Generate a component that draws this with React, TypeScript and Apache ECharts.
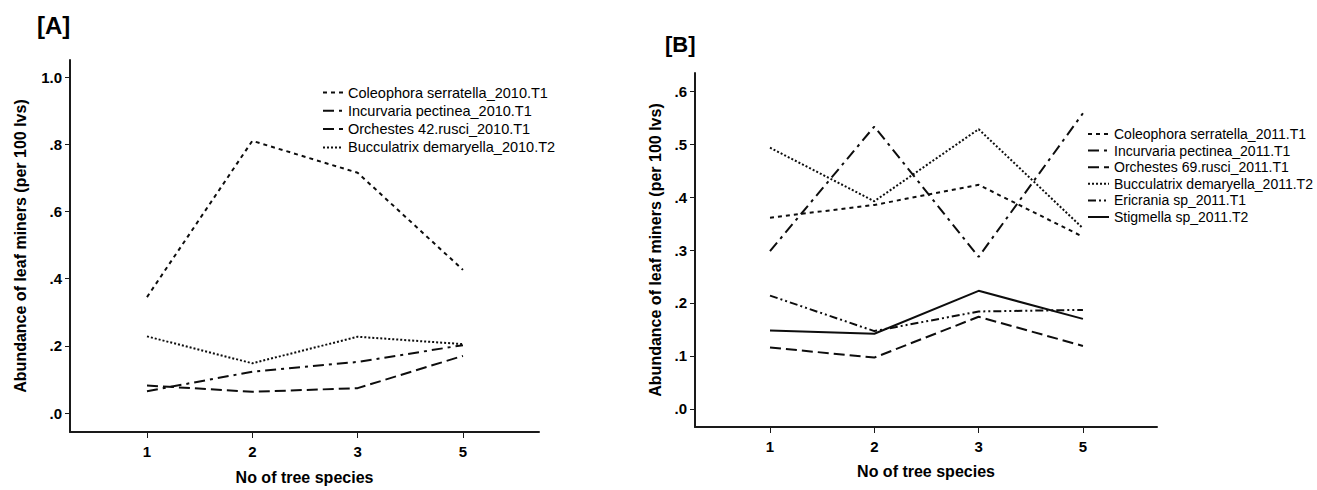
import React, { useEffect, useRef } from "react";
import * as echarts from "echarts";

const categories = ["1", "2", "3", "5"];

// Panel A (2010)
const namesA = [
  "Coleophora serratella_2010.T1",
  "Incurvaria pectinea_2010.T1",
  "Orchestes 42.rusci_2010.T1",
  "Bucculatrix demaryella_2010.T2",
];
const coleophoraA = [0.345, 0.81, 0.715, 0.426];
const incurvariaA = [0.065, 0.123, 0.152, 0.202];
const orchestesA = [0.082, 0.063, 0.074, 0.17];
const bucculatrixA = [0.228, 0.148, 0.227, 0.205];
const yTicksA = [0, 0.2, 0.4, 0.6, 0.8, 1.0];

// Panel B (2011)
const namesB = [
  "Coleophora serratella_2011.T1",
  "Incurvaria pectinea_2011.T1",
  "Orchestes 69.rusci_2011.T1",
  "Bucculatrix demaryella_2011.T2",
  "Ericrania sp_2011.T1",
  "Stigmella sp_2011.T2",
];
const coleophoraB = [0.361, 0.385, 0.423, 0.325];
const incurvariaB = [0.298, 0.533, 0.287, 0.558];
const orchestesB = [0.116, 0.097, 0.174, 0.119];
const bucculatrixB = [0.493, 0.392, 0.528, 0.341];
const ericraniaB = [0.214, 0.147, 0.184, 0.187];
const stigmellaB = [0.148, 0.142, 0.223, 0.17];
const yTicksB = [0, 0.1, 0.2, 0.3, 0.4, 0.5, 0.6];

const xIdx = [0, 1, 2, 3];

const DASH_SHORT = [4, 4];
const DASH_DOT = [11, 5, 3, 5];
const DASH_LONG = [11, 5];
const DOTTED = [2, 2];
const DASH_DOT_DOT = [8, 3, 2, 3, 2, 3];

const FONT = "Arial, 'Liberation Sans', sans-serif";
const AXIS_COLOR = "#1a1a1a";

const fmtY = (v: number) => {
  const s = v.toFixed(1);
  return s.startsWith("0") ? s.slice(1) : s;
};

function mkSeries(name: string, values: number[], dash: any, idx: number) {
  return {
    name,
    type: "line",
    xAxisIndex: idx,
    yAxisIndex: idx,
    symbol: "none",
    data: values.map((v, i) => [xIdx[i], v]),
    lineStyle: { color: "#0d0d0d", width: 2, type: dash },
    itemStyle: { color: "rgba(0,0,0,0)", borderWidth: 0 },
  };
}

function xAxis(idx: number, min: number, max: number, nameGap: number) {
  return {
    type: "value",
    gridIndex: idx,
    min,
    max,
    name: "No of tree species",
    nameLocation: "middle",
    nameGap,
    nameTextStyle: { fontFamily: FONT, fontWeight: "bold", fontSize: 16, color: "#000" },
    axisLine: { show: true, onZero: false, lineStyle: { color: AXIS_COLOR, width: 2 } },
    axisTick: { show: true, length: 6, customValues: xIdx, lineStyle: { color: AXIS_COLOR, width: 1 } },
    axisLabel: {
      customValues: xIdx,
      formatter: (v: number) => categories[Math.round(v)] ?? "",
      fontFamily: FONT,
      fontWeight: "bold",
      fontSize: 15,
      color: "#000",
      margin: 12,
    },
    splitLine: { show: false },
  };
}

function yAxis(idx: number, min: number, max: number, ticks: number[], nameGap: number) {
  return {
    type: "value",
    gridIndex: idx,
    min,
    max,
    name: "Abundance of leaf miners (per 100 lvs)",
    nameLocation: "middle",
    nameGap,
    nameTextStyle: { fontFamily: FONT, fontWeight: "bold", fontSize: 16, color: "#000" },
    axisLine: { show: true, onZero: false, lineStyle: { color: AXIS_COLOR, width: 2 } },
    axisTick: { show: true, length: 5, customValues: ticks, lineStyle: { color: AXIS_COLOR, width: 1 } },
    axisLabel: {
      customValues: ticks,
      formatter: fmtY,
      fontFamily: FONT,
      fontWeight: "bold",
      fontSize: 15,
      color: "#000",
      margin: 8,
    },
    splitLine: { show: false },
  };
}

const legendItemStyle = { color: "rgba(0,0,0,0)", borderWidth: 0, opacity: 0 };

export default function App() {
  const ref = useRef<HTMLDivElement>(null);
  useEffect(() => {
    if (!ref.current) return;
    const chart = echarts.init(ref.current, undefined, { renderer: "svg" });
    const option: any = {
      animation: false,
      backgroundColor: "#fff",
      title: [
        { text: "[A]", left: 32, top: 8, textStyle: { fontFamily: FONT, fontWeight: "bold", fontSize: 24, color: "#000" } },
        { text: "[B]", left: 660, top: 28, textStyle: { fontFamily: FONT, fontWeight: "bold", fontSize: 22, color: "#000" } },
      ],
      grid: [
        { left: 70, top: 60, width: 469, height: 372 },
        { left: 695, top: 73, width: 462, height: 354 },
      ],
      xAxis: [xAxis(0, -0.731, 3.722, 37), xAxis(1, -0.719, 3.71, 36)],
      yAxis: [yAxis(0, -0.0565, 1.0506, yTicksA, 42), yAxis(1, -0.034, 0.634, yTicksB, 32)],
      legend: [
        {
          data: namesA,
          orient: "vertical",
          left: 317,
          top: 80,
          itemWidth: 20,
          itemHeight: 12,
          itemGap: 3.3,
          itemStyle: legendItemStyle,
          textStyle: { fontFamily: FONT, fontSize: 14.5, color: "#000", lineHeight: 14 },
        },
        {
          data: namesB,
          orient: "vertical",
          left: 1082,
          top: 122,
          itemWidth: 21,
          itemHeight: 12,
          itemGap: 2.6,
          itemStyle: legendItemStyle,
          textStyle: { fontFamily: FONT, fontSize: 14, color: "#000", lineHeight: 14 },
        },
      ],
      series: [
        mkSeries(namesA[0], coleophoraA, DASH_SHORT, 0),
        mkSeries(namesA[1], incurvariaA, DASH_DOT, 0),
        mkSeries(namesA[2], orchestesA, DASH_LONG, 0),
        mkSeries(namesA[3], bucculatrixA, DOTTED, 0),
        mkSeries(namesB[0], coleophoraB, DASH_SHORT, 1),
        mkSeries(namesB[1], incurvariaB, DASH_DOT, 1),
        mkSeries(namesB[2], orchestesB, DASH_LONG, 1),
        mkSeries(namesB[3], bucculatrixB, DOTTED, 1),
        mkSeries(namesB[4], ericraniaB, DASH_DOT_DOT, 1),
        mkSeries(namesB[5], stigmellaB, "solid", 1),
      ],
    };
    chart.setOption(option);
    return () => chart.dispose();
  }, []);
  return (
    <div
      ref={ref}
      style={{ position: "fixed", left: 0, top: 0, width: 1317, height: 490, background: "#fff" }}
    />
  );
}
